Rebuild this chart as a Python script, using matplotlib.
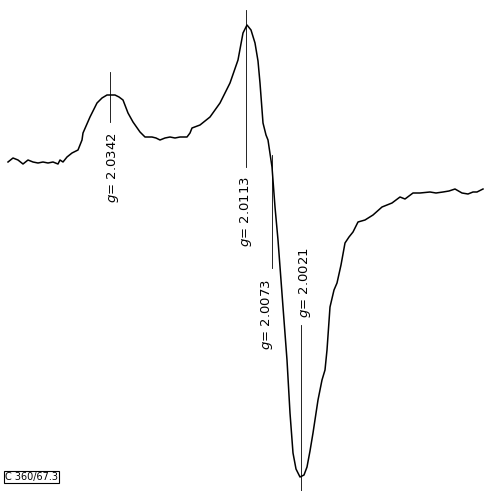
import numpy as np
import matplotlib
matplotlib.use("Agg")
import matplotlib.pyplot as plt

# EPR derivative trace (arbitrary units)
field = [8, 13, 18, 23, 28, 33, 38, 43, 48, 53, 58, 60, 63, 67, 72, 78, 82, 83,
         90, 97, 102, 107, 111, 115, 119, 123, 128, 133, 140, 145, 152, 156, 160,
         165, 170, 175, 180, 187, 190, 192, 200, 210, 220, 230, 238, 243, 247,
         251, 255, 258, 260, 263, 266, 268, 272, 275, 278, 283, 287, 290, 293,
         296, 300, 304, 307, 310, 313, 318, 322, 325, 327, 330, 334, 337, 341,
         345, 349, 353, 358, 365, 373, 382, 392, 400, 405, 413, 420, 430,
         436, 443, 449, 455, 462, 468, 473, 477, 483]
signal = [329, 333, 331, 327, 331, 329, 328, 329, 328, 329, 327, 331, 329, 334,
          338, 341, 351, 358, 374, 388, 393, 396, 396, 396, 394, 391, 378, 369,
          359, 354, 354, 353, 351, 353, 354, 353, 354, 354, 358, 363, 366, 374,
          388, 408, 431, 458, 466, 461, 448, 430, 408, 368, 356, 351, 324, 284,
          251, 184, 131, 78, 38, 22, 14, 16, 24, 40, 58, 91, 111, 121, 141, 184,
          201, 208, 226, 248, 254, 259, 269, 271, 276, 284, 288, 294, 292, 298,
          298, 299, 298, 299, 300, 302, 298, 297, 299, 299, 302]

# marked g-values: position, extent of the marker line, label anchor
g_labels = ["2.0342", "2.0113", "2.0073", "2.0021"]
g_pos = [110, 246, 272, 301]
line_top = [419, 481, 336, 166]
line_bot = [369, 324, 223, 0]
label_x = [113, 246, 267, 305]
label_y = [359, 315, 212, 244]

fig = plt.figure(figsize=(4.84, 4.91), dpi=100)
ax = fig.add_axes([0, 0, 1, 1])
ax.plot(field, signal, color="black", lw=1.1)

for i in range(len(g_labels)):
    ax.plot([g_pos[i], g_pos[i]], [line_bot[i], line_top[i]], color="black", lw=0.6)
    ax.text(label_x[i], label_y[i], r"$g$= " + g_labels[i], rotation=90,
            ha="center", va="top", fontsize=9.5, family="DejaVu Sans")

ax.text(5, 14, "C 360/67.3", fontsize=7, family="DejaVu Sans", ha="left",
        va="center",
        bbox=dict(boxstyle="square,pad=0.15", fc="white", ec="black", lw=0.8))

ax.set_xlim(0, 484)
ax.set_ylim(0, 491)
ax.axis("off")
fig.savefig("out.png", dpi=100)
